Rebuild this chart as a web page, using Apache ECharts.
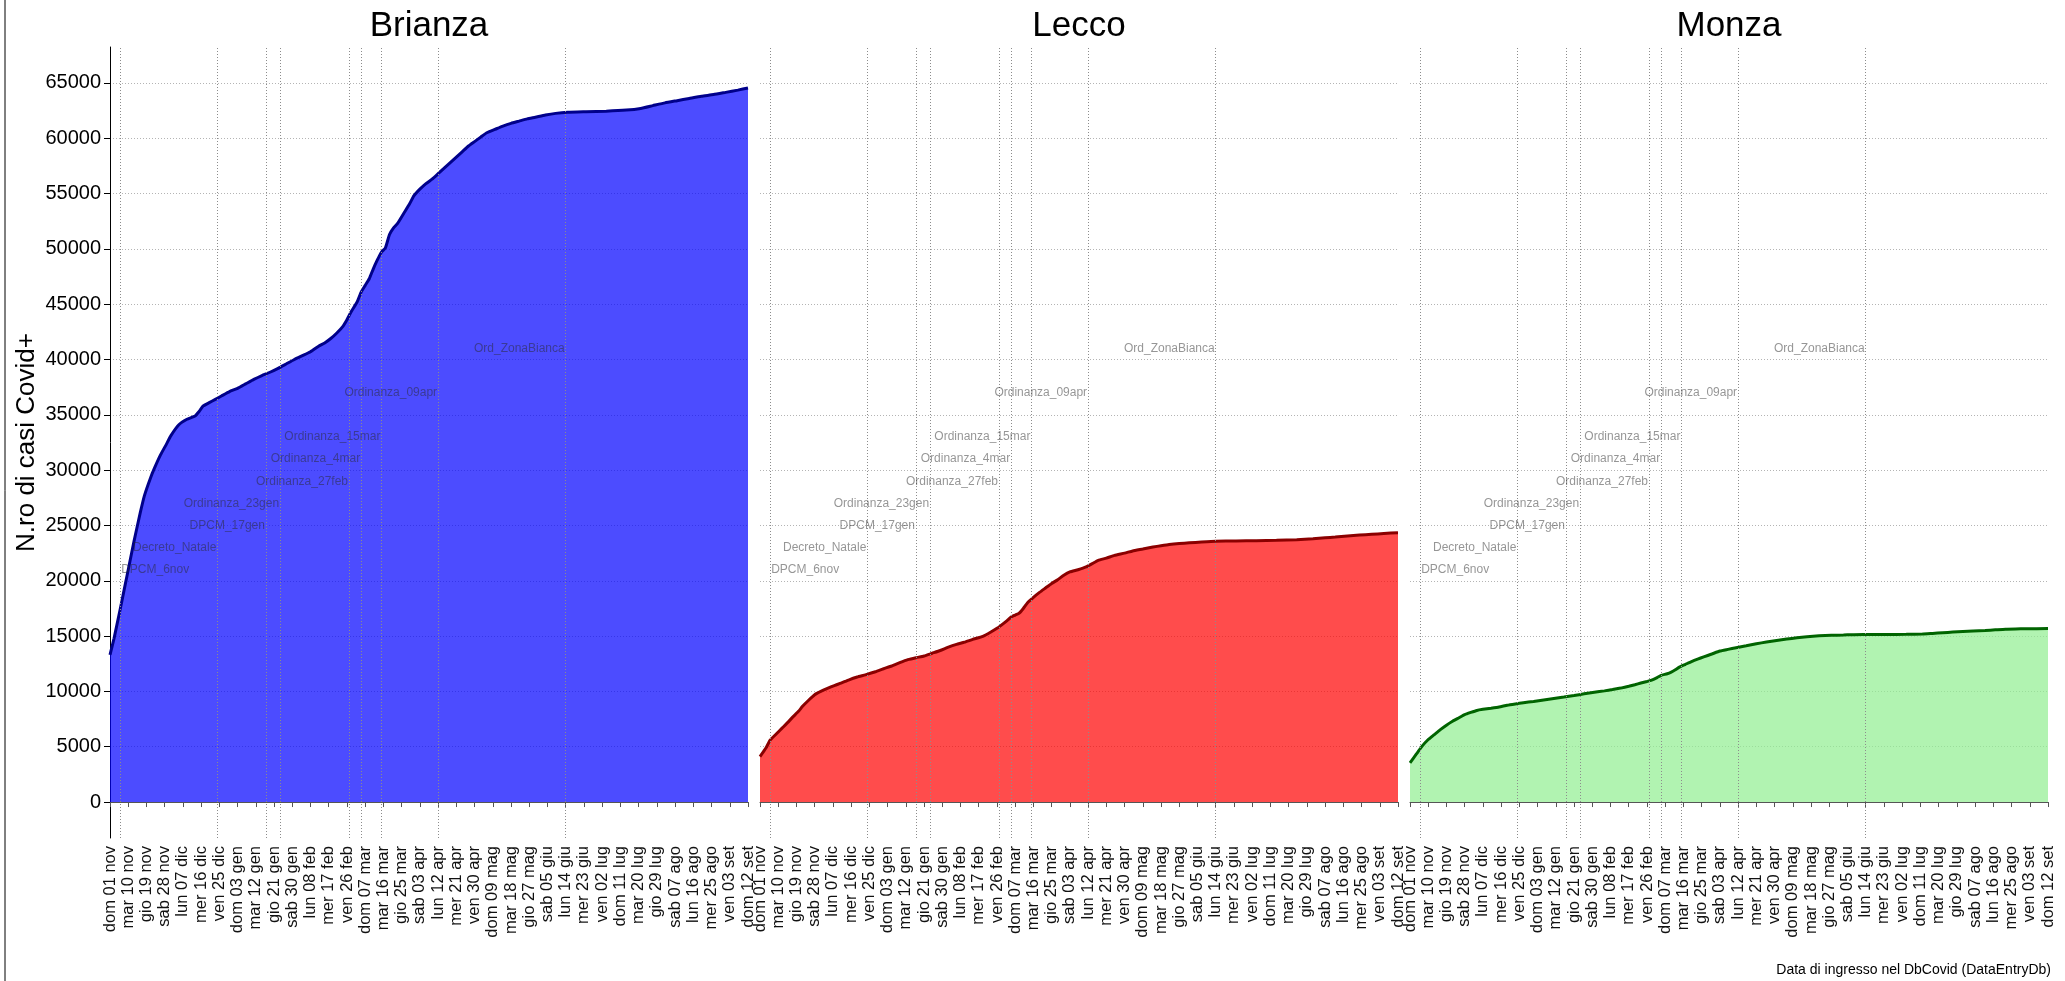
<!DOCTYPE html>
<html><head><meta charset="utf-8">
<script src="https://cdn.jsdelivr.net/npm/echarts@6/dist/echarts.min.js"></script>
<style>html,body{margin:0;padding:0;background:#fff}#c{width:2065px;height:981px}</style>
</head><body><div id="c"></div>
<script>
// ---------- data ----------
const panelNames = ['Brianza', 'Lecco', 'Monza'];
const yAxisTitle = 'N.ro di casi Covid+';
const footerText = 'Data di ingresso nel DbCovid (DataEntryDb)';
const startDate = '2020-11-01';
const tickLabels = ['dom 01 nov','mar 10 nov','gio 19 nov','sab 28 nov','lun 07 dic','mer 16 dic','ven 25 dic','dom 03 gen','mar 12 gen','gio 21 gen','sab 30 gen','lun 08 feb','mer 17 feb','ven 26 feb','dom 07 mar','mar 16 mar','gio 25 mar','sab 03 apr','lun 12 apr','mer 21 apr','ven 30 apr','dom 09 mag','mar 18 mag','gio 27 mag','sab 05 giu','lun 14 giu','mer 23 giu','ven 02 lug','dom 11 lug','mar 20 lug','gio 29 lug','sab 07 ago','lun 16 ago','mer 25 ago','ven 03 set','dom 12 set'];
const eventNames = ['DPCM_6nov','Decreto_Natale','DPCM_17gen','Ordinanza_23gen','Ordinanza_27feb','Ordinanza_4mar','Ordinanza_15mar','Ordinanza_09apr','Ord_ZonaBianca'];
const eventDates = ['2020-11-06','2020-12-24','2021-01-17','2021-01-24','2021-02-27','2021-03-05','2021-03-15','2021-04-12','2021-06-14'];
const eventLabelLevels = [21000,23000,25000,27000,29000,31000,33000,37000,41000];

// [day since 01 nov 2020, cumulative cases]
const brianza = [[0,13300],[2,14800],[5,17400],[7,19200],[10,21900],[12,23700],[15,26200],[17,27700],[20,29300],[22,30200],[25,31400],[28,32400],[30,33100],[34,34100],[38,34600],[42,34900],[44,35300],[46,35800],[49,36100],[52,36400],[55,36700],[59,37100],[63,37400],[67,37800],[71,38200],[75,38550],[79,38850],[83,39200],[87,39600],[91,40000],[95,40350],[99,40700],[103,41200],[106,41500],[109,41900],[112,42400],[115,43000],[117,43600],[119,44300],[122,45200],[124,46100],[126,46700],[128,47300],[130,48200],[132,49000],[134,49700],[136,50100],[138,51300],[140,51900],[142,52300],[145,53200],[148,54100],[150,54800],[153,55400],[156,55900],[159,56300],[162,56800],[165,57300],[168,57800],[171,58300],[174,58800],[177,59300],[180,59700],[183,60100],[186,60500],[190,60800],[194,61100],[198,61350],[202,61550],[206,61750],[210,61900],[215,62100],[220,62250],[226,62350],[235,62400],[245,62450],[255,62550],[262,62700],[268,62950],[274,63200],[280,63400],[286,63600],[292,63800],[298,63950],[304,64150],[310,64350],[315,64550]];
const lecco = [[0,4100],[3,4900],[5,5600],[8,6150],[11,6700],[14,7250],[16,7650],[19,8200],[21,8650],[24,9200],[27,9700],[30,10000],[33,10250],[37,10550],[40,10750],[44,11050],[48,11300],[52,11500],[57,11780],[61,12050],[65,12300],[69,12600],[73,12870],[77,13050],[81,13200],[85,13450],[89,13700],[93,14000],[97,14250],[101,14450],[105,14700],[110,14980],[114,15370],[117,15700],[119,15970],[122,16400],[124,16720],[126,16900],[128,17080],[130,17500],[132,18000],[135,18500],[138,18950],[141,19350],[144,19750],[147,20100],[150,20500],[153,20800],[157,21000],[161,21250],[164,21550],[167,21850],[171,22050],[175,22300],[180,22500],[184,22700],[189,22870],[194,23050],[198,23170],[202,23280],[207,23370],[212,23430],[218,23500],[225,23570],[235,23600],[245,23630],[255,23660],[265,23720],[273,23800],[279,23880],[284,23950],[290,24050],[296,24130],[302,24200],[308,24270],[315,24350]];
const monza = [[0,3550],[3,4300],[6,5050],[9,5650],[12,6100],[15,6550],[18,6950],[21,7300],[24,7600],[27,7900],[30,8100],[33,8280],[36,8380],[40,8480],[44,8590],[48,8750],[52,8870],[56,8980],[61,9090],[66,9230],[71,9360],[76,9490],[81,9630],[86,9780],[91,9920],[96,10050],[100,10170],[104,10300],[108,10460],[111,10600],[114,10760],[117,10900],[119,11000],[122,11250],[124,11450],[127,11600],[129,11750],[131,11950],[133,12200],[136,12450],[139,12700],[142,12920],[145,13120],[149,13380],[153,13650],[157,13800],[161,13950],[166,14130],[171,14310],[176,14460],[181,14600],[186,14730],[191,14850],[196,14950],[202,15030],[208,15070],[214,15100],[224,15150],[235,15150],[245,15160],[253,15180],[258,15240],[263,15300],[268,15360],[273,15420],[278,15470],[284,15510],[289,15570],[294,15630],[299,15650],[304,15660],[315,15680]];

// ---------- layout / style ----------
const seriesData = [brianza, lecco, monza];
const lineColors = ['#00008B', '#8B0000', '#006400'];
const fillColors = ['#0000FF', '#FF0000', '#90EE90'];
const FONT = '"Liberation Sans", Arial, sans-serif';
const TOP = 47, BOT = 838, Y_MIN = -3250, Y_MAX = 68250, TICK_MAX = 65000, TICK_STEP = 5000;
const X_MAX = (tickLabels.length - 1) * 9;
const lefts = [110, 760, 1410], PW = 638;
const yPix = v => BOT - (v - Y_MIN) / (Y_MAX - Y_MIN) * (BOT - TOP);
const dayOf = s => Math.round((Date.parse(s) - Date.parse(startDate)) / 86400000);
const eventDays = eventDates.map(dayOf);

const grid = [], xAxis = [], yAxis = [], series = [];
panelNames.forEach((name, i) => {
  const a = 2 * i, b = 2 * i + 1;
  grid.push({left: lefts[i], width: PW, top: TOP, height: BOT - TOP, containLabel: false});
  grid.push({left: lefts[i], width: PW, top: yPix(TICK_MAX), height: yPix(0) - yPix(TICK_MAX), containLabel: false});
  xAxis.push({
    gridIndex: a, type: 'value', min: 0, max: X_MAX, interval: 9,
    axisLine: {show: true, lineStyle: {color: '#555', width: 1}},
    axisTick: {show: true, length: 5, lineStyle: {color: '#555'}},
    axisLabel: {rotate: 90, fontSize: 16.5, color: '#111', fontFamily: FONT, margin: 8,
      formatter: v => tickLabels[Math.round(v / 9)] || ''},
    splitLine: {show: false}
  });
  xAxis.push({gridIndex: b, type: 'value', min: 0, max: X_MAX, show: false});
  yAxis.push({
    gridIndex: a, type: 'value', min: Y_MIN, max: Y_MAX,
    axisLine: {show: i === 0, lineStyle: {color: '#000', width: 1}},
    axisTick: {show: false}, axisLabel: {show: false}, splitLine: {show: false},
    name: i === 0 ? yAxisTitle : '', nameLocation: 'middle', nameGap: 70,
    nameTextStyle: {fontSize: 26, color: '#000', fontFamily: FONT}
  });
  yAxis.push({
    gridIndex: b, type: 'value', min: 0, max: TICK_MAX, interval: TICK_STEP,
    axisLine: {show: false},
    axisTick: {show: i === 0, length: 6, lineStyle: {color: '#000'}},
    axisLabel: {show: i === 0, fontSize: 20, color: '#000', fontFamily: FONT, margin: 9, formatter: v => String(v)},
    splitLine: {show: true, lineStyle: {color: '#b4b4b4', width: 1, type: [1, 2]}}
  });
  series.push({
    type: 'line', xAxisIndex: a, yAxisIndex: a, data: seriesData[i], z: 2,
    symbol: 'none', showSymbol: false, smooth: 0.15, silent: true,
    lineStyle: {color: lineColors[i], width: 3},
    areaStyle: {color: fillColors[i], opacity: 0.7},
    markLine: {
      silent: true, symbol: 'none', animation: false,
      label: {show: false},
      lineStyle: {color: '#8c8c8c', width: 1, type: [1, 2]},
      data: eventDays.map(d => ({xAxis: d}))
    }
  });
  series.push({
    type: 'scatter', xAxisIndex: a, yAxisIndex: a, symbolSize: 0, silent: true, z: 6,
    data: eventDays.map((d, k) => ({value: [d, eventLabelLevels[k]], name: eventNames[k],
      label: {position: k === 0 ? 'right' : 'left'}})),
    label: {show: true, formatter: '{b}', fontSize: 12, fontFamily: FONT,
      color: 'rgba(40,40,40,0.62)', distance: 1}
  });
});

const graphic = [
  {type: 'line', shape: {x1: 5, y1: 0, x2: 5, y2: 981}, style: {stroke: '#000', lineWidth: 1}},
  {type: 'text', x: 2051, y: 970, style: {text: footerText, fontSize: 14, fontFamily: FONT, fill: '#000', align: 'right', verticalAlign: 'middle'}}
];
panelNames.forEach((name, i) => {
  graphic.push({type: 'text', x: lefts[i] + PW / 2, y: 26,
    style: {text: name, fontSize: 35, fontFamily: FONT, fill: '#000', align: 'center', verticalAlign: 'middle'}});
});

const chart = echarts.init(document.getElementById('c'), null, {renderer: 'canvas'});
chart.setOption({animation: false, backgroundColor: '#fff', grid, xAxis, yAxis, series, graphic});
</script></body></html>
